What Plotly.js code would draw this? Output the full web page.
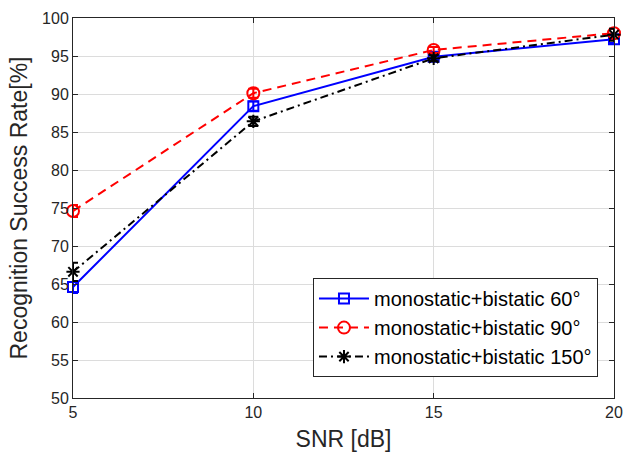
<!DOCTYPE html>
<html>
<head>
<meta charset="utf-8">
<script src="https://cdn.plot.ly/plotly-3.0.1.min.js"></script>
<style>html,body{margin:0;padding:0;background:#fff;}#chart{width:625px;height:456px;}</style>
</head>
<body>
<div id="chart"></div>
<script>
const snr = [5, 10, 15, 20];
const names = ["monostatic+bistatic 60°", "monostatic+bistatic 90°", "monostatic+bistatic 150°"];
const rate60 = [64.6, 88.4, 94.9, 97.2];
const err60 = [0.8, 0.6, 0.4, 0.5];
const rate90 = [74.6, 90.1, 95.8, 98.0];
const err90 = [0.8, 0.6, 0.4, 0.6];
const rate150 = [66.6, 86.4, 94.7, 97.8];
const err150 = [1.2, 0.6, 0.4, 0.8];
const xTicks = [5, 10, 15, 20];
const yTicks = [50, 55, 60, 65, 70, 75, 80, 85, 90, 95, 100];

function tr(y, e, name, color, dash, symbol, size) {
  return {
    x: snr, y: y, name: name, type: 'scatter', mode: 'lines+markers',
    cliponaxis: false,
    line: {color: color, width: 2, dash: dash},
    marker: {symbol: symbol, size: size, color: color, line: {color: color, width: 2}},
    error_y: {type: 'data', array: e, visible: true, color: color, thickness: 2, width: 5}
  };
}
const data = [
  tr(rate60, err60, names[0], '#0000ff', 'solid', 'square-open', 10),
  tr(rate90, err90, names[1], '#ff0000', '9px,6px', 'circle-open', 12),
  tr(rate150, err150, names[2], '#000000', '8px,4px,2px,4px', 'asterisk-open', 11)
];
const fam = 'Liberation Sans, Arial, sans-serif';
const axFont = {family: fam, size: 16, color: '#262626'};
const layout = {
  width: 625, height: 456,
  margin: {l: 73, r: 11, t: 18, b: 58},
  paper_bgcolor: '#fff', plot_bgcolor: '#fff',
  showlegend: true,
  legend: {x: 0.4436, y: 0.055, xanchor: 'left', yanchor: 'bottom',
    bgcolor: '#fff', bordercolor: '#262626', borderwidth: 1,
    font: {family: fam, size: 20, color: '#000'},
    tracegroupgap: 0, itemwidth: 50},
  xaxis: {
    range: [5, 20], tickvals: xTicks, ticktext: xTicks.map(String),
    showgrid: true, gridcolor: '#dcdcdc', gridwidth: 1,
    showline: true, linecolor: '#262626', linewidth: 1, mirror: 'ticks',
    ticks: 'inside', ticklen: 5, tickcolor: '#262626',
    zeroline: false, tickfont: axFont,
    title: {text: 'SNR [dB]', font: {family: fam, size: 23, color: '#262626'}, standoff: 10}
  },
  yaxis: {
    range: [50, 100], tickvals: yTicks, ticktext: yTicks.map(String),
    showgrid: true, gridcolor: '#dcdcdc', gridwidth: 1,
    showline: true, linecolor: '#262626', linewidth: 1, mirror: 'ticks',
    ticks: 'inside', ticklen: 5, tickcolor: '#262626',
    zeroline: false, tickfont: axFont,
    title: {text: 'Recognition Success Rate[%]', font: {family: fam, size: 23, color: '#262626'}, standoff: 8}
  }
};
Plotly.newPlot('chart', data, layout, {displayModeBar: false, staticPlot: true});
</script>
</body>
</html>
